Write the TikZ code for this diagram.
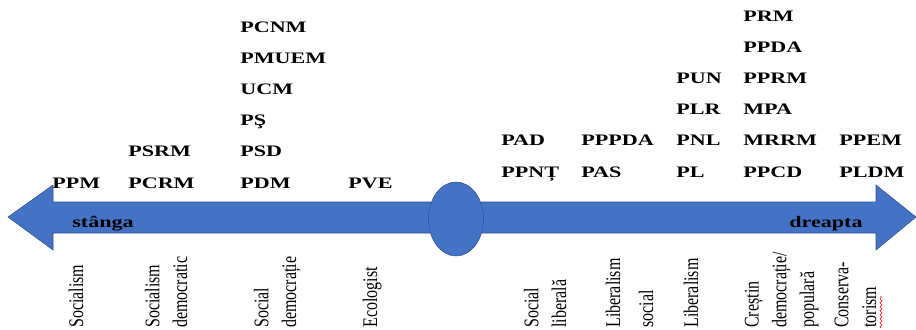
\documentclass[tikz,border=0pt]{standalone}
\usepackage{fontspec}
\setmainfont{Liberation Serif}
\usetikzlibrary{decorations.pathmorphing}
\definecolor{axisblue}{HTML}{4472C4}
\definecolor{axisedge}{HTML}{2F528F}

\begin{document}
\begin{tikzpicture}[x=0.75pt, y=-0.75pt,
	party/.style={anchor=base west, align=left, inner sep=0pt, xscale=1.38, font=\fontsize{12}{23.3}\selectfont\bfseries},
	side/.style={anchor=base west, inner sep=0pt, xscale=1.38, font=\fontsize{12}{14}\selectfont\bfseries},
	doctrine/.style={anchor=base west, align=left, inner sep=0pt, xscale=1.3, rotate=90, font=\fontsize{12}{16}\selectfont}]
	\useasboundingbox (0,0) rectangle (916,329);
	\draw [fill=axisblue, draw=axisedge] (8,217) -- (53,185) -- (53,202) -- (876,202) -- (876,185) -- (916,217) -- (876,250) -- (876,233) -- (53,233) -- (53,250) -- cycle;
	\draw [fill=axisblue, draw=axisedge] (456,219) ellipse (27.5 and 37);
	\node [side] (left) at (72,227) {stânga};
	\node [side] (right) at (789,227) {dreapta};
	\node [party] (p1) at (52,188) {PPM};
	\node [party] (p2) at (128,188) {PSRM\\PCRM};
	\node [party] (p3) at (240,188) {PCNM\\PMUEM\\UCM\\PŞ\\PSD\\PDM};
	\node [party] (p4) at (348,188) {PVE};
	\node [party] (p5) at (501,177) {PAD\\PPNȚ};
	\node [party] (p6) at (581,177) {PPPDA\\PAS};
	\node [party] (p7) at (676,177) {PUN\\PLR\\PNL\\PL};
	\node [party] (p8) at (743,177) {PRM\\PPDA\\PPRM\\MPA\\MRRM\\PPCD};
	\node [party] (p9) at (839,177) {PPEM\\PLDM};
	\node [doctrine] (d1) at (83,328) {Socialism};
	\node [doctrine] (d2) at (187,328) {Socialism\\democratic};
	\node [doctrine] (d3) at (296,328) {Social\\democrație};
	\node [doctrine] (d4) at (377,328) {Ecologist};
	\node [doctrine] (d5) at (566,328) {Social\\liberală};
	\node [doctrine] (d6) at (653,328) {Liberalism\\[3pt]social};
	\node [doctrine] (d7) at (698,328) {Liberalism};
	\node [doctrine] (d8) at (814,328) {Creștin\\democrație/\\populară};
	\node [doctrine] (d9) at (876,328) {Conserva-\\torism};
	\draw [red, decorate, decoration={snake, amplitude=0.8, segment length=3}] (881,328) -- (881,296);
\end{tikzpicture}
\end{document}
